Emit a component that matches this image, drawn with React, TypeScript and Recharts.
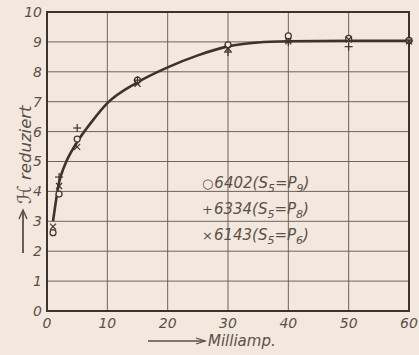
import React from "react";
import {
  ComposedChart,
  Line,
  Scatter,
  XAxis,
  YAxis,
  CartesianGrid,
  ReferenceArea,
  Label,
} from "recharts";

const xTicks = [0, 10, 20, 30, 40, 50, 60];
const yTicks = [0, 1, 2, 3, 4, 5, 6, 7, 8, 9, 10];

const curveX = [1, 2, 3, 5, 7.5, 10, 15, 20, 25, 30, 35, 40, 50, 60];
const curveY = [3.0, 4.3, 4.9, 5.65, 6.35, 6.95, 7.65, 8.15, 8.55, 8.85, 8.98, 9.02, 9.04, 9.04];

const circleX = [1, 2, 5, 15, 30, 40, 50, 60];
const circleY = [2.62, 3.91, 5.75, 7.72, 8.9, 9.2, 9.12, 9.05];
const plusX = [2, 5, 15, 30, 40, 50, 60];
const plusY = [4.48, 6.12, 7.72, 8.66, 9.0, 8.84, 9.03];
const crossX = [1, 2, 5, 15, 30, 40, 50, 60];
const crossY = [2.82, 4.18, 5.49, 7.6, 8.78, 9.02, 9.08, 9.02];

const curve = curveX.map((x, i) => ({ x, y: curveY[i] }));
const circles = circleX.map((x, i) => ({ x, y: circleY[i] }));
const pluses = plusX.map((x, i) => ({ x, y: plusY[i] }));
const crosses = crossX.map((x, i) => ({ x, y: crossY[i] }));

const INK = "#3d332d";
const GRID = "#6f635b";
const TEXT = "#5b5049";
const BG = "#f2e8de";
const FONT = "'DejaVu Sans', sans-serif";

const CircleShape = (p: any) => (
  <circle cx={p.cx} cy={p.cy} r={3} fill={BG} stroke={INK} strokeWidth={1.2} />
);
const PlusShape = (p: any) => (
  <g stroke={INK} strokeWidth={1.2}>
    <line x1={p.cx - 4} y1={p.cy} x2={p.cx + 4} y2={p.cy} />
    <line x1={p.cx} y1={p.cy - 4} x2={p.cx} y2={p.cy + 4} />
  </g>
);
const CrossShape = (p: any) => (
  <g stroke={INK} strokeWidth={1.2}>
    <line x1={p.cx - 3} y1={p.cy - 3} x2={p.cx + 3} y2={p.cy + 3} />
    <line x1={p.cx - 3} y1={p.cy + 3} x2={p.cx + 3} y2={p.cy - 3} />
  </g>
);

const legendRows = [
  { sym: "○", num: "6402", sub: "9" },
  { sym: "+", num: "6334", sub: "8" },
  { sym: "×", num: "6143", sub: "6" },
];

const LegendBox = () => (
  <div
    style={{
      position: "absolute",
      left: 202,
      top: 170,
      fontFamily: FONT,
      fontStyle: "italic",
      fontSize: 15,
      color: TEXT,
      lineHeight: "26px",
      pointerEvents: "none",
    }}
  >
    {legendRows.map((r) => (
      <div key={r.num} style={{ whiteSpace: "nowrap", height: 26 }}>
        <span style={{ fontStyle: "normal", fontSize: 13, marginRight: 1 }}>{r.sym}</span>
        {r.num}(S<sub style={{ fontSize: 11, lineHeight: 0 }}>5</sub>=P<sub style={{ fontSize: 11, lineHeight: 0 }}>{r.sub}</sub>)
      </div>
    ))}
  </div>
);

const XLabel = (props: any) => {
  const vb = props.viewBox || { x: 47, y: 311, width: 362, height: 44 };
  const y = vb.y + 30;
  const x0 = vb.x + 101;
  const x1 = vb.x + 158;
  return (
    <g>
      <line x1={x0} y1={y} x2={x1} y2={y} stroke={TEXT} strokeWidth={1.5} />
      <polyline points={`${x1 - 9},${y - 3} ${x1},${y} ${x1 - 9},${y + 3}`} fill="none" stroke={TEXT} strokeWidth={1.3} />
      <text x={x1 + 3} y={y + 5} fill={TEXT} fontFamily={FONT} fontStyle="italic" fontSize={15}>
        Milliamp.
      </text>
    </g>
  );
};

const YLabel = () => {
  const x = 23;
  const yTail = 253;
  const yHead = 210;
  const tx = 31;
  const ty = 204;
  return (
    <g>
      <line x1={x} y1={yTail} x2={x} y2={yHead} stroke={TEXT} strokeWidth={1.8} />
      <polyline points={`${x - 4},${yHead + 9} ${x},${yHead} ${x + 4},${yHead + 9}`} fill="none" stroke={TEXT} strokeWidth={1.5} />
      <text
        x={tx}
        y={ty}
        transform={`rotate(-90 ${tx} ${ty})`}
        fill={TEXT}
        fontFamily={FONT}
        fontStyle="italic"
        fontSize={16.5}
      >
        <tspan fontSize={19}>ℋ</tspan> reduziert
      </text>
    </g>
  );
};

export default function App() {
  return (
    <div style={{ position: "absolute", left: 0, top: 0, width: 419, height: 355, background: BG }}>
      <ComposedChart width={419} height={355} margin={{ top: 12, right: 10, bottom: 0, left: 0 }}>
        <CartesianGrid stroke={GRID} strokeWidth={1} horizontalValues={yTicks} verticalValues={xTicks} />
        <XAxis
          dataKey="x"
          type="number"
          domain={[0, 60]}
          ticks={xTicks}
          height={44}
          axisLine={false}
          tickLine={false}
          tickSize={0}
          tickMargin={7}
          tick={{ fill: TEXT, fontFamily: FONT, fontStyle: "italic", fontSize: 14 }}
        >
          <Label content={<XLabel />} />
        </XAxis>
        <YAxis
          type="number"
          domain={[0, 10]}
          ticks={yTicks}
          width={47}
          axisLine={false}
          tickLine={false}
          tickSize={0}
          tickMargin={5}
          interval={0}
          tick={{ fill: TEXT, fontFamily: FONT, fontStyle: "italic", fontSize: 14 }}
        >
          <Label content={<YLabel />} />
        </YAxis>
        <ReferenceArea x1={0} x2={60} y1={0} y2={10} fill="none" stroke={INK} strokeWidth={2} ifOverflow="visible" />
        <Line
          data={curve}
          dataKey="y"
          type="monotone"
          stroke={INK}
          strokeWidth={2.6}
          dot={false}
          isAnimationActive={false}
        />
        <Scatter data={circles} dataKey="y" shape={<CircleShape />} isAnimationActive={false} />
        <Scatter data={pluses} dataKey="y" shape={<PlusShape />} isAnimationActive={false} />
        <Scatter data={crosses} dataKey="y" shape={<CrossShape />} isAnimationActive={false} />
      </ComposedChart>
      <LegendBox />
    </div>
  );
}
